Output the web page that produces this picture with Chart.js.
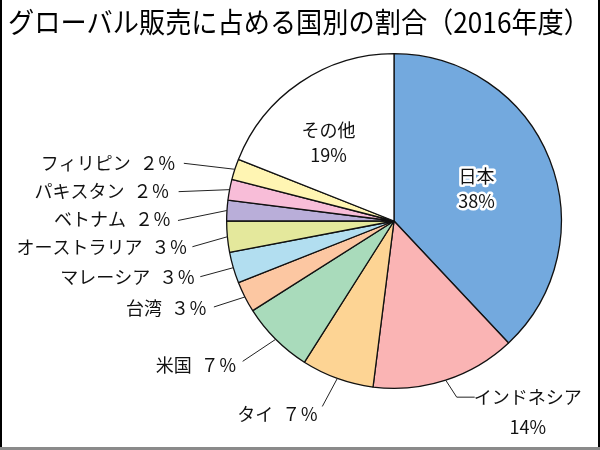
<!DOCTYPE html>
<html lang="ja">
<head>
<meta charset="utf-8">
<script src="https://cdn.jsdelivr.net/npm/chart.js@4.4.1/dist/chart.umd.min.js"></script>
<style>
  html, body { margin: 0; padding: 0; background: #fff; }
  #wrap { width: 600px; height: 450px; position: relative; }
</style>
</head>
<body>
<div id="wrap"><canvas id="shareChart"></canvas></div>
<script>
// data
const chartTitle = 'グローバル販売に占める国別の割合（2016年度）';
const countries = ['日本', 'インドネシア', 'タイ', '米国', '台湾', 'マレーシア', 'オーストラリア', 'ベトナム', 'パキスタン', 'フィリピン', 'その他'];
const shares = [38, 14, 7, 7, 3, 3, 3, 2, 2, 2, 19];

const sliceColors = ['#73a9de', '#fab4b4', '#fdd494', '#a9dbbb', '#fcc7a2', '#b2def0', '#e4e89c', '#b9aed9', '#f8bdd8', '#fff5b3', '#ffffff'];

// label placement, relative to the point on the rim at each slice's middle angle
const labelLayout = [
  { inside: true, rf: 0.53, off: [0, 0], halo: true },
  { elbow: [[11, 17], [29, 17]], text: [53, 0], twoLine: true },
  { end: [-15, 28], text: [-4, 8] },
  { end: [-33, 22], text: [-6, 4] },
  { end: [-31, 10], text: [-7, 1] },
  { end: [-33, 9], text: [-5, 0] },
  { end: [-35, 10], text: [-5, 0] },
  { end: [-49, 10], text: [-7, -1] },
  { end: [-51, 2], text: [-9, 0] },
  { end: [-51, -6], text: [-8, 0] },
  { inside: true, rf: 0.61, off: [-8, 6] }
];

const fullWidth = s => String(s).replace(/[0-9]/g, d => String.fromCharCode(d.charCodeAt(0) + 0xFEE0));

const JP = "'Noto Sans CJK JP', sans-serif";
const NARROW = "'Liberation Sans Narrow', 'Noto Sans CJK JP', sans-serif";

const labelPlugin = {
  id: 'pieLabels',
  afterDatasetsDraw(chart) {
    const ctx = chart.ctx;
    const arcs = chart.getDatasetMeta(0).data;
    ctx.save();
    arcs.forEach((arc, i) => {
      const p = arc.getProps(['x', 'y', 'startAngle', 'endAngle', 'outerRadius'], true);
      const mid = (p.startAngle + p.endAngle) / 2;
      const cos = Math.cos(mid), sin = Math.sin(mid);
      const lay = labelLayout[i];
      ctx.fillStyle = '#111';
      ctx.textBaseline = 'middle';
      if (lay.inside) {
        const r = p.outerRadius * lay.rf;
        const x = p.x + cos * r + lay.off[0];
        const y = p.y + sin * r + lay.off[1];
        ctx.textAlign = 'center';
        ctx.font = '18px ' + NARROW;
        const lines = [countries[i], shares[i] + '%'];
        lines.forEach((t, k) => {
          const ty = y - 12 + k * 25;
          if (lay.halo) {
            ctx.strokeStyle = '#fff';
            ctx.lineWidth = 5;
            ctx.lineJoin = 'round';
            ctx.strokeText(t, x, ty);
          }
          ctx.fillText(t, x, ty);
        });
        return;
      }
      const ex = p.x + cos * p.outerRadius;
      const ey = p.y + sin * p.outerRadius;
      ctx.strokeStyle = '#222';
      ctx.lineWidth = 1;
      ctx.beginPath();
      ctx.moveTo(ex, ey);
      if (lay.elbow) {
        lay.elbow.forEach(pt => ctx.lineTo(ex + pt[0], ey + pt[1]));
        ctx.stroke();
        const last = lay.elbow[lay.elbow.length - 1];
        const tx = ex + last[0] + lay.text[0];
        const ty = ey + last[1] + lay.text[1];
        ctx.textAlign = 'center';
        ctx.font = '18px ' + JP;
        ctx.fillText(countries[i], tx, ty);
        ctx.font = '18px ' + NARROW;
        ctx.fillText(shares[i] + '%', tx, ty + 30);
      } else {
        const lx = ex + lay.end[0], ly = ey + lay.end[1];
        ctx.lineTo(lx, ly);
        ctx.stroke();
        ctx.textAlign = 'right';
        ctx.font = '18px ' + JP;
        ctx.fillText(countries[i] + '\u2002' + fullWidth(shares[i]) + '％', lx + lay.text[0], ly + lay.text[1]);
      }
    });
    ctx.restore();
  },
  afterDraw(chart) {
    const ctx = chart.ctx;
    const w = chart.width, h = chart.height;
    ctx.save();
    // title
    ctx.fillStyle = '#000';
    ctx.font = '28px ' + JP;
    ctx.textAlign = 'left';
    ctx.textBaseline = 'middle';
    ctx.fillText(chartTitle, 8, 22, 582);
    // frame
    ctx.fillStyle = '#000';
    ctx.fillRect(0, 0, 2, h);
    ctx.fillRect(w - 2, 0, 2, h);
    ctx.fillStyle = '#8a8a8a';
    ctx.fillRect(0, h - 3, w, 3);
    ctx.restore();
  }
};

new Chart(document.getElementById('shareChart'), {
  type: 'pie',
  data: {
    labels: countries,
    datasets: [{
      data: shares,
      backgroundColor: sliceColors,
      borderColor: '#111',
      borderWidth: 1.3
    }]
  },
  options: {
    responsive: true,
    maintainAspectRatio: false,
    animation: false,
    layout: {
      padding: { left: 226, right: 38, top: 53, bottom: 61 }
    },
    plugins: {
      legend: { display: false },
      title: { display: false },
      tooltip: { enabled: false }
    }
  },
  plugins: [labelPlugin]
});
</script>
</body>
</html>
